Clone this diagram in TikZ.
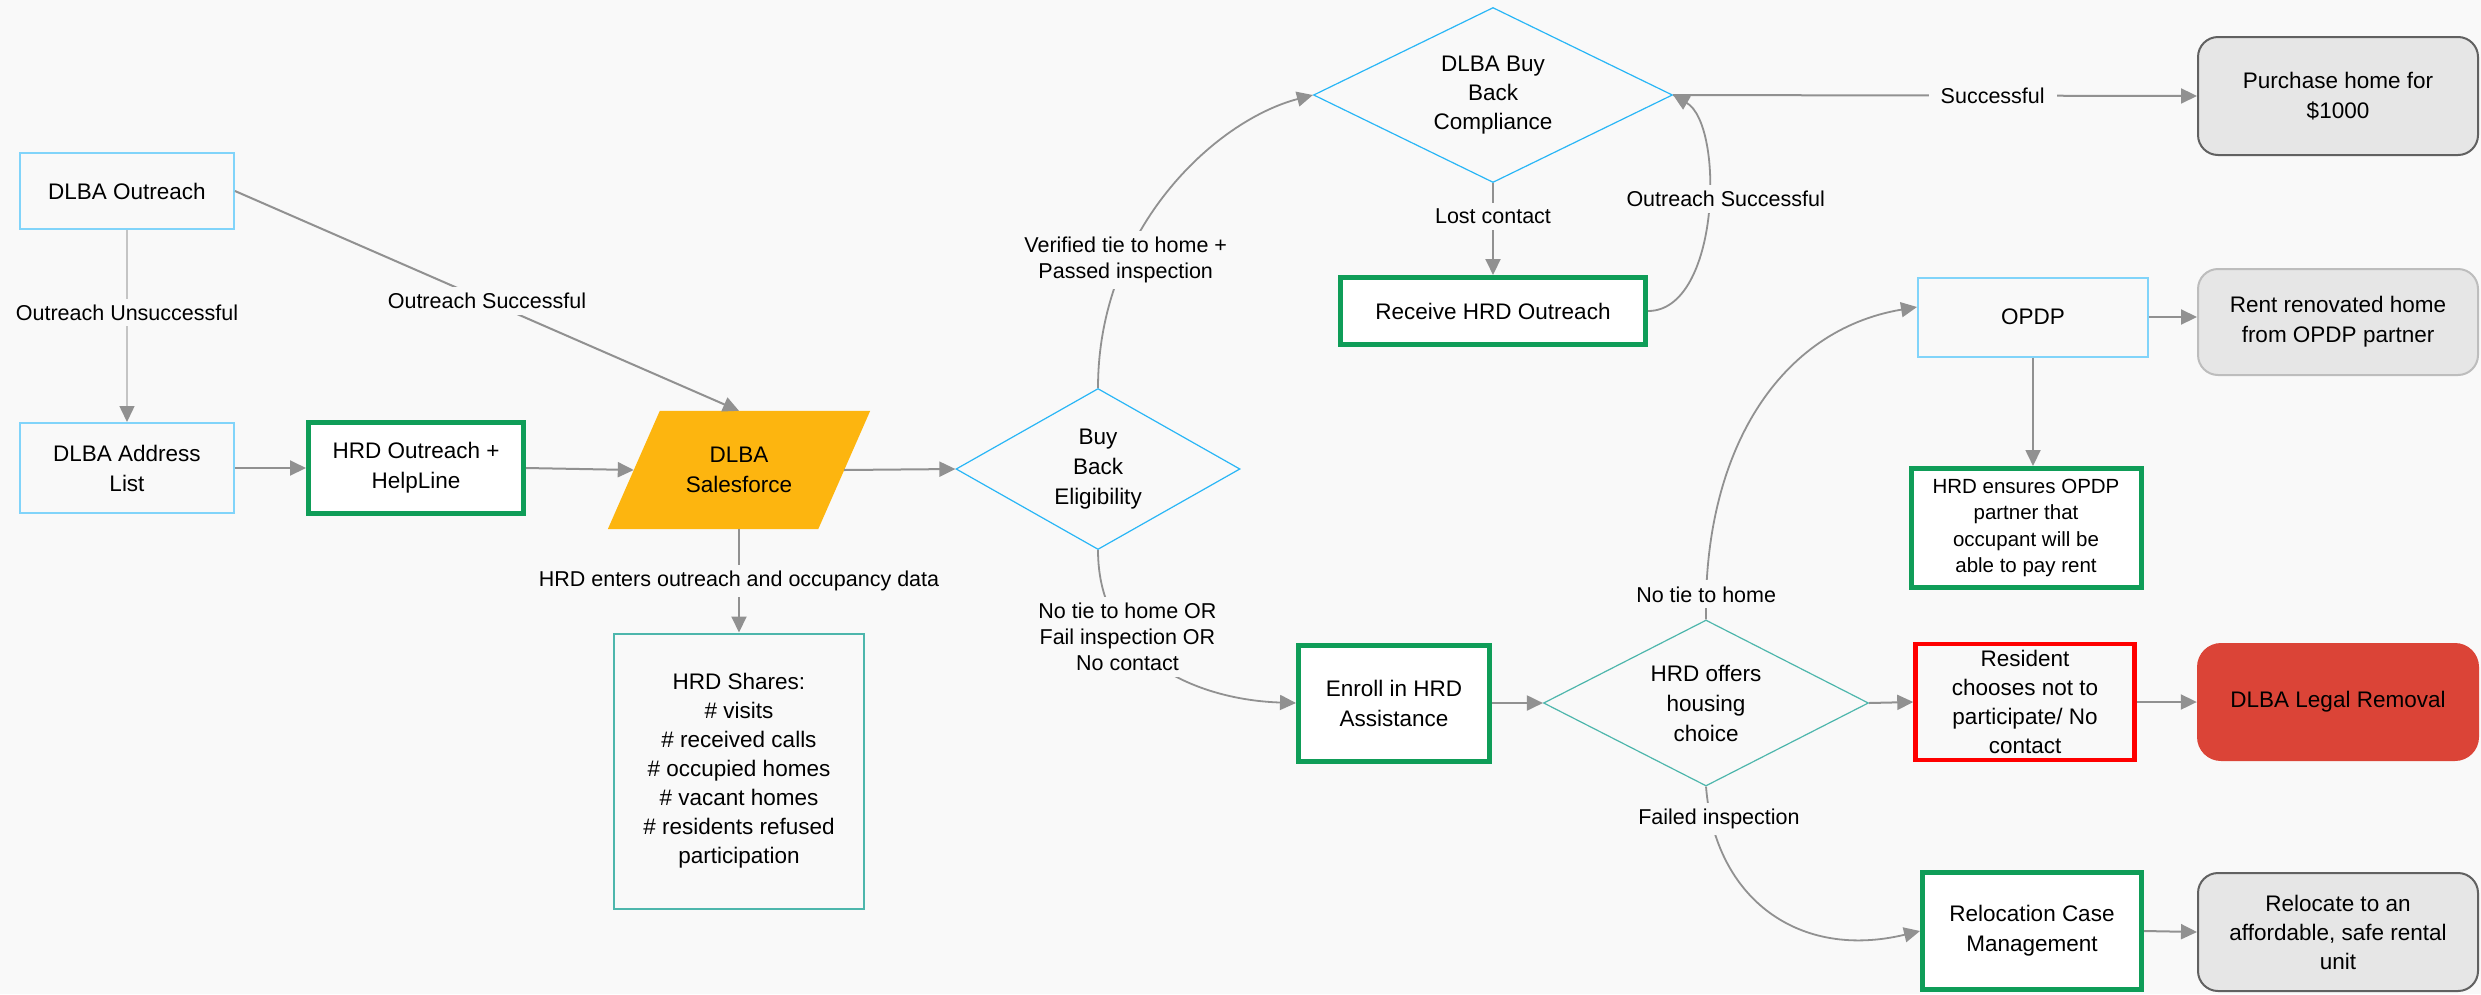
\documentclass[tikz,border=0pt]{standalone}
\usepackage{fontspec}
\setmainfont{Liberation Sans}
\usetikzlibrary{shapes.geometric,arrows.meta}
\definecolor{bg}{HTML}{F9F9F9}
\definecolor{lblue}{HTML}{81D4FA}
\definecolor{dblue}{HTML}{29B6F6}
\definecolor{teal}{HTML}{4DB6AC}
\definecolor{grn}{HTML}{0F9D58}
\definecolor{orng}{HTML}{FDB50F}
\definecolor{redb}{HTML}{FF0000}
\definecolor{redf}{HTML}{DB4437}
\definecolor{grayf}{HTML}{E6E6E6}
\definecolor{grayd}{HTML}{616161}
\definecolor{grayl}{HTML}{BDBDBD}
\definecolor{lgray}{HTML}{919191}
\definecolor{llgray}{HTML}{C4C4C4}
\begin{document}
\begin{tikzpicture}[x=1pt,y=-1pt,
  base/.style={align=center,inner sep=0pt,font=\fontsize{22.5}{30}\selectfont},
  bluebox/.style={base,rectangle,draw=lblue,line width=2pt,fill=bg},
  greenbox/.style={base,rectangle,draw=grn,line width=5pt,fill=white},
  tealbox/.style={base,rectangle,draw=teal,line width=2pt,fill=bg},
  redbox/.style={base,rectangle,draw=redb,line width=4.5pt,fill=bg},
  graybox/.style={base,rectangle,rounded corners=20pt,fill=grayf,line width=2pt},
  legalbox/.style={base,rectangle,rounded corners=24pt,fill=redf},
  dia/.style={base,shape=diamond,line width=1.2pt,fill=bg},
  lbl/.style={align=center,fill=bg,inner xsep=12pt,inner ysep=6pt,font=\fontsize{21.5}{26}\selectfont},
  arr/.style={draw=lgray,line width=2pt,-{Triangle[length=16pt,width=15pt]}},
  carr/.style={draw=lgray,line width=1.8pt,-{Triangle[length=16pt,width=15pt]}},
  larr/.style={draw=llgray,line width=1.5pt,-{Triangle[length=16pt,width=15pt,color=lgray]}}
]
\useasboundingbox (0,0) rectangle (2481,994);
\fill[bg] (0,0) rectangle (2481,994);

% nodes
\node[bluebox,minimum width=214pt,minimum height=76pt] (out) at (127,191) {DLBA Outreach};
\node[bluebox,minimum width=214pt,minimum height=90pt] (addr) at (127,468) {DLBA Address\\List};
\node[greenbox,minimum width=215pt,minimum height=91pt] (hrdo) at (416,468) {HRD Outreach +\\HelpLine};
\node[base,minimum width=210pt,minimum height=118pt] (sf) at (739,470) {};
\fill[orng] ([xshift=26pt]sf.north west) -- ([xshift=26pt]sf.north east) -- ([xshift=-26pt]sf.south east) -- ([xshift=-26pt]sf.south west) -- cycle;
\node[base] at (sf.center) {DLBA\\Salesforce};
\node[dia,draw=dblue,aspect=1.76,minimum width=284pt,minimum height=161pt] (elig) at (1098,469) {Buy\\Back\\Eligibility};
\node[tealbox,minimum width=250pt,minimum height=275pt,font=\fontsize{22.5}{29}\selectfont] (shares) at (739,771) {HRD Shares:\\\# visits\\\# received calls\\\# occupied homes\\\# vacant homes\\\# residents refused\\participation};
\node[dia,draw=dblue,aspect=2.05,minimum width=359pt,minimum height=175pt,font=\fontsize{22.5}{29}\selectfont] (comp) at (1493,95) {DLBA Buy\\Back\\Compliance};
\node[greenbox,minimum width=305pt,minimum height=67pt] (recv) at (1493,311) {Receive HRD Outreach};
\node[graybox,draw=grayd,minimum width=280pt,minimum height=118pt] (purch) at (2338,96) {Purchase home for\\\$1000};
\node[bluebox,minimum width=230pt,minimum height=79pt] (opdp) at (2033,317) {OPDP};
\node[graybox,draw=grayl,minimum width=280pt,minimum height=106pt] (rent) at (2338,322) {Rent renovated home\\from OPDP partner};
\node[greenbox,minimum width=230pt,minimum height=119pt,font=\fontsize{20.5}{26.5}\selectfont] (ensure) at (2026,528) {HRD ensures OPDP\\partner that\\occupant will be\\able to pay rent};
\node[greenbox,minimum width=191pt,minimum height=116pt] (enroll) at (1394,703) {Enroll in HRD\\Assistance};
\node[dia,draw=teal,aspect=1.96,minimum width=325pt,minimum height=166pt] (hoffer) at (1706,703) {HRD offers\\housing\\choice};
\node[redbox,minimum width=219pt,minimum height=116pt,font=\fontsize{22.5}{29}\selectfont] (resid) at (2025,702) {Resident\\chooses not to\\participate/ No\\contact};
\node[legalbox,minimum width=282pt,minimum height=118pt] (legal) at (2338,702) {DLBA Legal Removal};
\node[greenbox,minimum width=219pt,minimum height=117pt] (reloc) at (2032,931) {Relocation Case\\Management};
\node[graybox,draw=grayd,minimum width=280pt,minimum height=118pt,font=\fontsize{22.5}{29}\selectfont] (reloc2) at (2338,932) {Relocate to an\\affordable, safe rental\\unit};

% connectors
\draw[larr] (out.south) -- (addr.north) node[lbl,pos=0.43]{Outreach Unsuccessful};
\draw[arr] (out.east) -- (sf.north) node[lbl,pos=0.5]{Outreach Successful};
\draw[arr] (addr.east) -- (hrdo.west);
\draw[arr] (hrdo.east) -- (sf.west);
\draw[arr] (sf.east) -- (elig.west);
\draw[arr] (sf.south) -- (shares.north) node[lbl,pos=0.5]{HRD enters outreach and occupancy data};
\draw[carr] (elig.north) .. controls (1098,230) and (1214,121) .. (comp.west) node[lbl,pos=0.3]{Verified tie to home +\\Passed inspection};
\draw[carr] (elig.south) .. controls (1098,660) and (1200,700) .. (enroll.west) node[lbl,pos=0.33]{No tie to home OR\\Fail inspection OR\\No contact};
\draw[arr] (comp.south) -- (recv.north) node[lbl,pos=0.36]{Lost contact};
\draw[carr] (recv.east) .. controls (1720,311) and (1725,125) .. (comp.east) node[lbl,pos=0.55,xshift=18pt]{Outreach Successful};
\draw[arr] (comp.east) -- (purch.west) node[lbl,pos=0.61]{Successful};
\draw[arr] (enroll.east) -- (hoffer.west);
\draw[arr] (hoffer.east) -- (resid.west);
\draw[arr] (resid.east) -- (legal.west);
\draw[carr] (hoffer.north) .. controls (1703,450) and (1780,330) .. ([yshift=10pt]opdp.west) node[lbl,pos=0.05]{No tie to home};
\draw[carr] (hoffer.south) .. controls (1715,900) and (1800,960) .. (reloc.west) node[lbl,pos=0.1,xshift=8pt]{Failed inspection};
\draw[arr] (opdp.east) -- (opdp.east -| rent.west);
\draw[carr] (opdp.south) -- (opdp.south |- ensure.north);
\draw[arr] (reloc.east) -- (reloc2.west);
\end{tikzpicture}
\end{document}
